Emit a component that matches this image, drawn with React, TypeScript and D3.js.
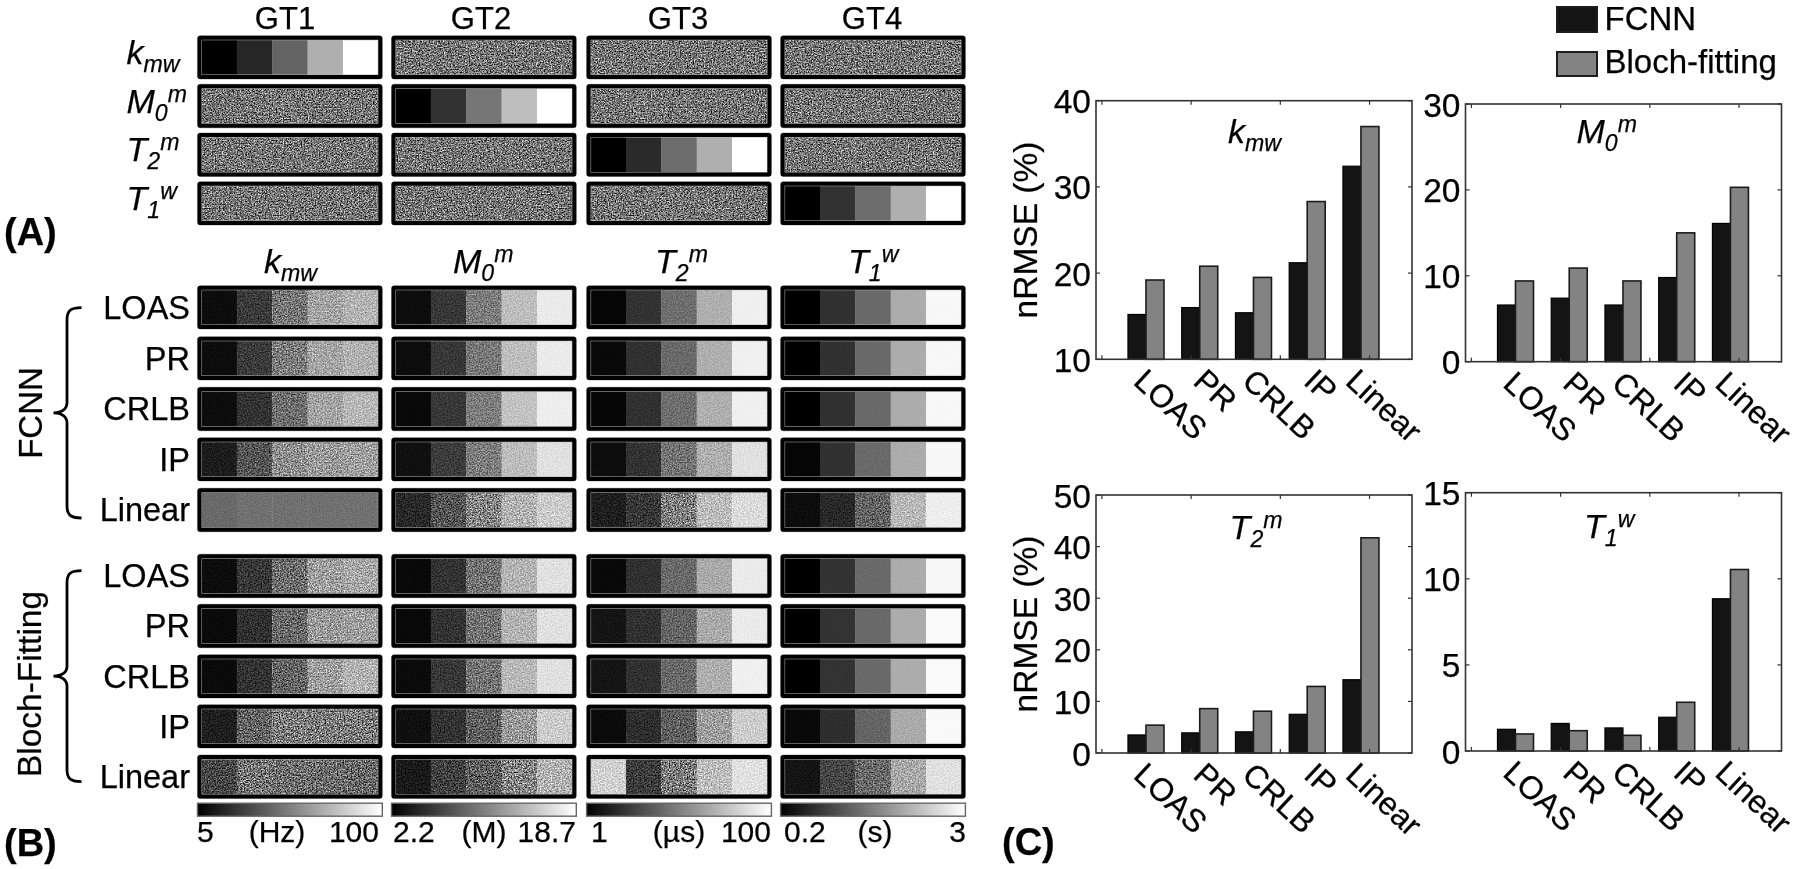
import React from "react";
import * as d3 from "d3";

const FONT = "'Liberation Sans', Arial, sans-serif";

// ---------- data: panel A ----------
const gtHeaders = ["GT1", "GT2", "GT3", "GT4"];
const gt1Levels = [0, 38, 100, 175, 255];
const gt2Levels = [0, 50, 118, 190, 255];
const gt3Levels = [0, 42, 108, 175, 255];
const gt4Levels = [0, 50, 108, 175, 255];
const flatGrey = [118, 118, 118, 118, 118];

// ---------- data: panel B (rows LOAS, PR, CRLB, IP, Linear; FCNN then Bloch) ----------
const methods = ["LOAS", "PR", "CRLB", "IP", "Linear"];
const kmwLevels = [
  [12, 58, 118, 165, 180], [12, 58, 125, 165, 178], [12, 50, 110, 165, 185], [28, 85, 145, 155, 160], [105, 112, 112, 112, 112],
  [12, 55, 110, 160, 170], [10, 48, 105, 155, 160], [10, 50, 100, 160, 180], [30, 100, 125, 125, 125], [70, 118, 112, 108, 106],
];
const m0mLevels = [
  [12, 55, 125, 190, 235], [12, 55, 120, 190, 235], [8, 55, 125, 195, 238], [15, 60, 125, 190, 225], [40, 85, 135, 180, 205],
  [8, 50, 115, 180, 225], [8, 50, 115, 180, 225], [10, 55, 115, 185, 225], [15, 50, 95, 155, 205], [25, 65, 95, 135, 180],
];
const t2mLevels = [
  [5, 50, 110, 175, 240], [8, 48, 105, 175, 240], [5, 48, 110, 175, 240], [12, 50, 115, 175, 225], [30, 55, 130, 190, 220],
  [8, 48, 105, 170, 235], [20, 48, 100, 170, 235], [20, 48, 105, 175, 240], [10, 45, 95, 160, 205], [210, 60, 125, 190, 225],
];
const t1wLevels = [
  [0, 48, 105, 172, 248], [0, 48, 105, 172, 248], [0, 48, 105, 172, 248], [5, 48, 105, 172, 248], [12, 40, 100, 185, 238],
  [0, 50, 105, 172, 248], [0, 50, 105, 172, 250], [0, 50, 105, 172, 250], [8, 45, 100, 170, 250], [20, 70, 105, 170, 225],
];
const kmwGrain = [0.7, 0.65, 0.65, 0.8, 0.15, 0.85, 0.8, 0.85, 0.95, 1];
const m0mGrain = [0.45, 0.45, 0.4, 0.5, 0.9, 0.65, 0.65, 0.65, 0.8, 1];
const t2mGrain = [0.25, 0.25, 0.3, 0.5, 0.9, 0.4, 0.5, 0.45, 0.7, 0.95];
const t1wGrain = [0.05, 0.05, 0.05, 0.1, 0.7, 0.08, 0.05, 0.05, 0.2, 0.7];
const colorbarLabels = [
  ["5", "(Hz)", "100"],
  ["2.2", "(M)", "18.7"],
  ["1", "(µs)", "100"],
  ["0.2", "(s)", "3"],
];

// ---------- data: panel C ----------
const barMethods = methods;
const kmwFcnn = [15.2, 16, 15.4, 21.2, 32.4];
const kmwBloch = [19.2, 20.8, 19.5, 28.3, 37];
const m0mFcnn = [6.6, 7.4, 6.6, 9.8, 16.1];
const m0mBloch = [9.4, 10.9, 9.4, 15, 20.3];
const t2mFcnn = [3.5, 3.9, 4.1, 7.5, 14.2];
const t2mBloch = [5.4, 8.6, 8.1, 12.9, 41.7];
const t1wFcnn = [1.26, 1.6, 1.34, 1.96, 8.84];
const t1wBloch = [0.99, 1.18, 0.91, 2.83, 10.54];
const kmwTicks = [10, 20, 30, 40];
const m0mTicks = [0, 10, 20, 30];
const t2mTicks = [0, 10, 20, 30, 40, 50];
const t1wTicks = [0, 5, 10, 15];
const xAxisTickIndex = [0.18, 1.84, 3.5, 5.16];
const legendNames = ["FCNN", "Bloch-fitting"];

// ---------- layout ----------
const colX = [197.5, 391.5, 586.6, 780.6];
const colW = 184.8;
const stripH = 43.4;
const rowsA = [35.7, 84.3, 133, 181.7];
const rowsB = [285.7, 336.7, 387.3, 437.7, 488.3, 554.3, 604.3, 654.7, 704.7, 755];
const grey = (v: number) => d3.rgb(v, v, v).formatHex();

function Strip({ x, y, levels, grain }: { x: number; y: number; levels: number[]; grain: number }) {
  const band = d3.scaleBand<number>().domain(d3.range(levels.length)).range([x + 4, x + colW - 4]);
  return (
    <g>
      {levels.map((v, i) => (
        <rect key={i} x={band(i)} y={y + 3} width={band.bandwidth() + 0.3} height={stripH - 6} fill={grey(v)} />
      ))}
      {grain > 0 && (
        <rect x={x + 4} y={y + 4} width={colW - 8} height={stripH - 8} filter="url(#grain)" opacity={grain} style={{ mixBlendMode: "overlay" }} />
      )}
      <rect x={x + 2} y={y + 2} width={colW - 4} height={stripH - 4} fill="none" stroke="#b5b5b5" strokeWidth={5} rx={1.5} />
      <rect x={x + 2} y={y + 2} width={colW - 4} height={stripH - 4} fill="none" stroke="#000" strokeWidth={4} rx={0.5} />
    </g>
  );
}

function Param({ x, y, base, sub, sup, size, anchor }: { x: number; y: number; base: string; sub?: string; sup?: string; size: number; anchor?: string }) {
  const small = size * 0.68;
  const subDy = size * 0.24;
  const supDy = size * 0.32;
  return (
    <text x={x} y={y} fontFamily={FONT} fontStyle="italic" fontSize={size} textAnchor={anchor ?? "start"} fill="#000" stroke="#000" strokeWidth={0.25}>
      {base}
      {sub && <tspan fontSize={small} dy={subDy}>{sub}</tspan>}
      {sup && <tspan fontSize={small} dy={-(sub ? subDy : 0) - supDy}>{sup}</tspan>}
    </text>
  );
}

const params = [
  { base: "k", sub: "mw" },
  { base: "M", sub: "0", sup: "m" },
  { base: "T", sub: "2", sup: "m" },
  { base: "T", sub: "1", sup: "w" },
];

function Brace({ top, bot }: { top: number; bot: number }) {
  const mid = (top + bot) / 2;
  const p = d3.path();
  p.moveTo(81.5, top);
  p.bezierCurveTo(72, top, 67, top + 2, 67, top + 12);
  p.lineTo(67, mid - 10);
  p.bezierCurveTo(67, mid - 4, 62, mid, 53.5, mid);
  p.bezierCurveTo(62, mid, 67, mid + 4, 67, mid + 10);
  p.lineTo(67, bot - 12);
  p.bezierCurveTo(67, bot - 2, 72, bot, 81.5, bot);
  return <path d={p.toString()} fill="none" stroke="#000" strokeWidth={2.8} />;
}

const labelNudgeX = [-14, -8, -13, -5, -17];
const txt = { fontFamily: FONT, fill: "#000", stroke: "#000", strokeWidth: 0.25 };

function BarPanel({ left, top, bottom, ticks, fcnn, bloch, param, titleX, titleY, ylabelY }: any) {
  const right = left + 316;
  const x = d3.scaleLinear().domain([0.07, 5.95]).range([left, right]);
  const y = d3.scaleLinear().domain([ticks[0], ticks[ticks.length - 1]]).range([bottom, top]);
  const half = 0.335;
  const idx = barMethods.map((_, i) => i + 1);
  return (
    <g>
      {idx.map((c, i) => (
        <g key={c}>
          <rect x={x(c - half)} y={y(fcnn[i])} width={x(c) - x(c - half)} height={bottom - y(fcnn[i])} fill="#141414" stroke="#000" strokeWidth={1.2} />
          <rect x={x(c)} y={y(bloch[i])} width={x(c + half) - x(c)} height={bottom - y(bloch[i])} fill="#838383" stroke="#1c1c1c" strokeWidth={1.6} />
        </g>
      ))}
      <rect x={left} y={top} width={right - left} height={bottom - top} fill="none" stroke="#333" strokeWidth={1.6} />
      {ticks.map((t: number) => (
        <g key={t}>
          <line x1={left} x2={left + 4} y1={y(t)} y2={y(t)} stroke="#333" strokeWidth={1.2} />
          <line x1={right} x2={right - 4} y1={y(t)} y2={y(t)} stroke="#333" strokeWidth={1.2} />
          <text x={left - 5} y={y(t) + 12.5} textAnchor="end" fontSize={33.5} {...txt}>{t}</text>
        </g>
      ))}
      {xAxisTickIndex.map((t) => (
        <g key={t}>
          <line x1={x(t)} x2={x(t)} y1={top} y2={top + 4} stroke="#333" strokeWidth={1.2} />
          <line x1={x(t)} x2={x(t)} y1={bottom} y2={bottom - 4} stroke="#333" strokeWidth={1.2} />
        </g>
      ))}
      {barMethods.map((m, i) => (
        <text
          key={m}
          transform={`translate(${x(i + 1) + labelNudgeX[i]},${bottom + 24}) rotate(43)`}
          fontSize={32}
          {...txt}
        >
          {m}
        </text>
      ))}
      <Param x={titleX} y={titleY} size={34} {...param} />
      {ylabelY != null && (
        <text transform={`translate(1037,${ylabelY}) rotate(-90)`} textAnchor="middle" fontSize={33.5} {...txt}>
          nRMSE (%)
        </text>
      )}
    </g>
  );
}

export default function App() {
  const gtLevels = [gt1Levels, gt2Levels, gt3Levels, gt4Levels];
  const bLevels = [kmwLevels, m0mLevels, t2mLevels, t1wLevels];
  const bGrain = [kmwGrain, m0mGrain, t2mGrain, t1wGrain];
  const headerCx = [285, 481, 678, 872];
  const paramCx = [264, 453, 655, 848];
  const cbLabelX = [
    [197, 277, 379],
    [393, 484, 576],
    [591, 679, 771],
    [784, 875, 966],
  ];
  return (
    <svg width={1800} height={869} style={{ position: "absolute", left: 0, top: 0, background: "#fff" }}>
      <defs>
        <filter id="grain" x="0" y="0" width="100%" height="100%" colorInterpolationFilters="sRGB">
          <feTurbulence type="fractalNoise" baseFrequency="0.72" numOctaves={2} seed={11} />
          <feColorMatrix values="1.7 0 0 0 -0.36  1.7 0 0 0 -0.36  1.7 0 0 0 -0.36  0 0 0 0 1" />
          <feGaussianBlur stdDeviation="0.4" />
        </filter>
        <linearGradient id="cb">
          <stop offset="0" stopColor="#000" />
          <stop offset="1" stopColor="#fff" />
        </linearGradient>
      </defs>

      {/* panel A */}
      {gtHeaders.map((h, c) => (
        <text key={h} x={headerCx[c]} y={28.5} textAnchor="middle" fontSize={31} {...txt}>{h}</text>
      ))}
      {params.map((p, r) => (
        <Param key={r} x={126.5} y={[63.5, 112.7, 161, 210][r]} size={34} {...p} />
      ))}
      {rowsA.map((ry, r) =>
        colX.map((cx, c) => (
          <Strip key={`${r}-${c}`} x={cx} y={ry} levels={r === c ? gtLevels[c] : flatGrey} grain={r === c ? 0 : 1} />
        ))
      )}
      <text x={4} y={245} fontSize={38} fontWeight="bold" {...txt}>(A)</text>

      {/* panel B */}
      {params.map((p, c) => (
        <Param key={c} x={paramCx[c]} y={273} size={34} {...p} />
      ))}
      {rowsB.map((ry, r) => (
        <text key={r} x={190} y={ry + 33} textAnchor="end" fontSize={32.5} {...txt}>{methods[r % 5]}</text>
      ))}
      {rowsB.map((ry, r) =>
        colX.map((cx, c) => (
          <Strip key={`${r}-${c}`} x={cx} y={ry} levels={bLevels[c][r]} grain={bGrain[c][r]} />
        ))
      )}
      <Brace top={307.7} bot={518} />
      <Brace top={570.7} bot={781.7} />
      <text transform="translate(42,413) rotate(-90)" textAnchor="middle" fontSize={33} {...txt}>FCNN</text>
      <text transform="translate(41,684) rotate(-90)" textAnchor="middle" fontSize={33.5} {...txt}>Bloch-Fitting</text>
      {colX.map((cx, c) => (
        <g key={c}>
          <rect x={cx} y={803.2} width={colW} height={13} fill="url(#cb)" stroke="#666" strokeWidth={1.4} />
          <text x={cbLabelX[c][0]} y={842} fontSize={30} {...txt}>{colorbarLabels[c][0]}</text>
          <text x={cbLabelX[c][1]} y={842} textAnchor="middle" fontSize={30} {...txt}>{colorbarLabels[c][1]}</text>
          <text x={cbLabelX[c][2]} y={842} textAnchor="end" fontSize={30} {...txt}>{colorbarLabels[c][2]}</text>
        </g>
      ))}
      <text x={4} y={856} fontSize={38} fontWeight="bold" {...txt}>(B)</text>

      {/* panel C */}
      <BarPanel left={1096} top={100.7} bottom={359.3} ticks={kmwTicks} fcnn={kmwFcnn} bloch={kmwBloch} param={params[0]} titleX={1228} titleY={142.7} ylabelY={230} />
      <BarPanel left={1465.5} top={104} bottom={361.7} ticks={m0mTicks} fcnn={m0mFcnn} bloch={m0mBloch} param={params[1]} titleX={1576.5} titleY={142.7} />
      <BarPanel left={1096} top={495} bottom={753} ticks={t2mTicks} fcnn={t2mFcnn} bloch={t2mBloch} param={params[2]} titleX={1229.6} titleY={539} ylabelY={624} />
      <BarPanel left={1465.5} top={492.7} bottom={751} ticks={t1wTicks} fcnn={t1wFcnn} bloch={t1wBloch} param={params[3]} titleX={1584} titleY={538} />
      <text x={1002} y={855} fontSize={38} fontWeight="bold" {...txt}>(C)</text>

      {/* legend */}
      {legendNames.map((n, i) => (
        <g key={n}>
          <rect x={1557} y={[7, 52][i]} width={40} height={[25, 24][i]} fill={["#141414", "#838383"][i]} stroke="#1c1c1c" strokeWidth={2} />
          <text x={1604.5} y={[30, 73][i]} fontSize={33} {...txt}>{n}</text>
        </g>
      ))}
    </svg>
  );
}
